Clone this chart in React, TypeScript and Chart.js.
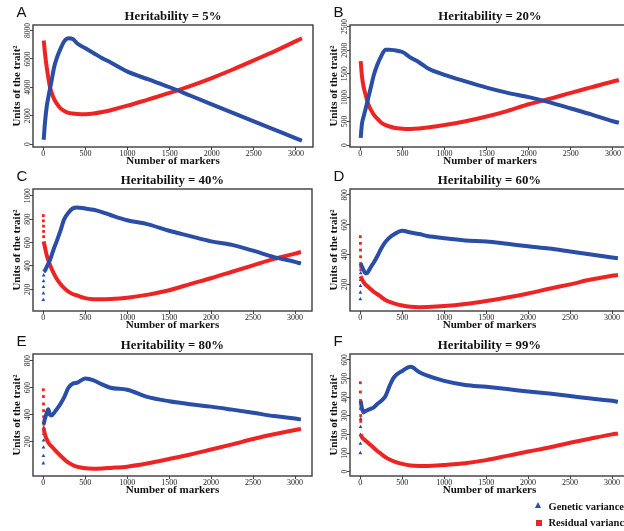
import React, { useEffect, useRef } from "react";
import { Chart, registerables } from "chart.js";

Chart.register(...registerables);

const SERIF = "'Liberation Serif', 'Times New Roman', serif";
const SANS = "'Liberation Sans', Arial, sans-serif";
const BLUE = "#2a4ea6";
const RED = "#ee2424";

// ---------- data ----------
const markerCounts = [5, 20, 40, 60, 80, 100, 130, 160, 200, 250, 300, 350, 400, 500, 600, 700, 800, 1000, 1250, 1500, 1750, 2000, 2250, 2500, 2750, 3000, 3070];
const earlyMarkers = [1, 2, 3, 4, 5, 6];
const xTicks = [0, 500, 1000, 1500, 2000, 2500, 3000];

const heritability = ["5%", "20%", "40%", "60%", "80%", "99%"];
const panelLetters = ["A", "B", "C", "D", "E", "F"];

const genA = [300, 1500, 2600, 3300, 3900, 4500, 5450, 6050, 6650, 7250, 7450, 7400, 7100, 6750, 6400, 6050, 5750, 5100, 4550, 4000, 3400, 2800, 2200, 1600, 1000, 400, 230];
const resA = [7300, 6400, 5450, 4650, 4000, 3600, 3150, 2850, 2550, 2330, 2200, 2150, 2120, 2100, 2150, 2250, 2380, 2700, 3150, 3600, 4100, 4650, 5250, 5900, 6550, 7250, 7450];

const genB = [150, 450, 600, 740, 880, 1030, 1250, 1470, 1680, 1880, 2010, 2010, 2000, 1960, 1840, 1740, 1620, 1480, 1340, 1210, 1100, 1010, 900, 770, 640, 500, 470];
const resB = [1770, 1450, 1220, 1080, 950, 840, 730, 640, 560, 470, 420, 390, 365, 345, 340, 350, 370, 420, 500, 600, 720, 860, 975, 1100, 1220, 1340, 1370];

const genC = [350, 360, 390, 420, 450, 490, 555, 610, 690, 800, 855, 890, 900, 890, 880, 860, 835, 790, 755, 700, 655, 610, 580, 530, 475, 435, 420];
const resC = [610, 560, 495, 450, 410, 375, 330, 290, 250, 210, 180, 160, 148, 125, 116, 115, 117, 128, 155, 192, 245, 295, 350, 405, 460, 505, 520];
const genEarlyC = [110, 165, 220, 270, 320];
const resEarlyC = [830, 785, 740, 695, 650];

const genD = [340, 320, 295, 275, 275, 290, 320, 345, 385, 440, 485, 515, 535, 560, 548, 538, 525, 510, 495, 488, 472, 455, 440, 420, 400, 380, 375];
const resD = [255, 235, 215, 200, 190, 180, 165, 150, 135, 115, 95, 82, 72, 58, 50, 47, 48, 54, 68, 88, 112, 139, 170, 200, 232, 258, 263];
const genEarlyD = [100, 145, 190, 230, 275, 320];
const resEarlyD = [520, 475, 430, 385, 340, 297];

const genE = [330, 370, 410, 440, 400, 395, 415, 440, 475, 530, 600, 630, 637, 668, 655, 625, 600, 585, 530, 500, 478, 460, 438, 415, 390, 372, 365];
const resE = [300, 255, 220, 195, 178, 165, 145, 125, 100, 70, 45, 28, 15, 3, 0, 2, 6, 15, 40, 72, 105, 142, 180, 220, 255, 287, 295];
const genEarlyE = [40, 95, 158, 210, 260, 305];
const resEarlyE = [585, 535, 480, 430, 385, 330];

const genF = [380, 340, 318, 325, 328, 333, 338, 345, 362, 380, 405, 460, 505, 540, 562, 535, 515, 487, 465, 455, 443, 430, 419, 406, 392, 380, 375];
const resF = [200, 185, 175, 168, 160, 152, 140, 128, 112, 95, 78, 65, 55, 42, 33, 31, 31, 36, 45, 62, 85, 108, 130, 155, 178, 200, 205];
const genEarlyF = [100, 150, 198, 240, 283];
const resEarlyF = [477, 427, 382, 337, 301, 270];

const yTicksA = [0, 2000, 4000, 6000, 8000];
const yTicksB = [0, 500, 1000, 1500, 2000, 2500];
const yTicksC = [200, 400, 600, 800, 1000];
const yTicksD = [200, 400, 600, 800];
const yTicksE = [200, 400, 600, 800];
const yTicksF = [0, 100, 200, 300, 400, 500, 600];

// ---------- layout ----------
const BOX_W = 280;
const BOX_H = 122;
const Y_AXIS_W = 33;
const TITLE_H = 25;
const X_AXIS_H = 30;
const RIGHT_PAD = 3;
const colLeft = [33, 350];
const rowTop = [25, 189, 354];

type PanelCfg = {
  idx: number;
  gen: number[];
  res: number[];
  genEarly: number[];
  resEarly: number[];
  yTicks: number[];
  yMin: number;
  yMax: number;
};

const panels: PanelCfg[] = [
  { idx: 0, gen: genA, res: resA, genEarly: [], resEarly: [], yTicks: yTicksA, yMin: -211, yMax: 8388 },
  { idx: 1, gen: genB, res: resB, genEarly: [], resEarly: [], yTicks: yTicksB, yMin: -42, yMax: 2530 },
  { idx: 2, gen: genC, res: resC, genEarly: genEarlyC, resEarly: resEarlyC, yTicks: yTicksC, yMin: 15, yMax: 1057 },
  { idx: 3, gen: genD, res: resD, genEarly: genEarlyD, resEarly: resEarlyD, yTicks: yTicksD, yMin: 21, yMax: 840 },
  { idx: 4, gen: genE, res: resE, genEarly: genEarlyE, resEarly: resEarlyE, yTicks: yTicksE, yMin: -54, yMax: 850 },
  { idx: 5, gen: genF, res: resF, genEarly: genEarlyF, resEarly: resEarlyF, yTicks: yTicksF, yMin: -23, yMax: 631 },
];

const boxPlugin = {
  id: "plotBox",
  afterDraw(chart: any) {
    const { ctx, chartArea: a } = chart;
    ctx.save();
    ctx.strokeStyle = "#3c3c3c";
    ctx.lineWidth = 1.4;
    ctx.strokeRect(a.left, a.top, a.right - a.left, a.bottom - a.top);
    ctx.restore();
  },
};

const Y_TICK_SIZE = 7.5;
const TITLE_SIZE = 12.8;

function Panel({ cfg }: { cfg: PanelCfg }) {
  const ref = useRef<HTMLCanvasElement | null>(null);
  const col = cfg.idx % 2;
  const row = Math.floor(cfg.idx / 2);
  const left = colLeft[col] - Y_AXIS_W;
  const top = rowTop[row] - TITLE_H;
  const width = BOX_W + Y_AXIS_W + RIGHT_PAD;
  const height = BOX_H + TITLE_H + X_AXIS_H;

  useEffect(() => {
    if (!ref.current) return;
    const maxDigits = Math.max(...cfg.yTicks.map((v) => String(v).length));
    const widest = maxDigits * 0.5 * Y_TICK_SIZE;
    const chart = new Chart(ref.current, {
      type: "scatter",
      data: {
        datasets: [
          {
            label: "Genetic variance",
            data: markerCounts.map((x, i) => ({ x, y: cfg.gen[i] })),
            showLine: true,
            borderColor: BLUE,
            backgroundColor: BLUE,
            borderWidth: 4,
            pointRadius: 0,
            cubicInterpolationMode: "monotone",
          },
          {
            label: "Residual variance",
            data: markerCounts.map((x, i) => ({ x, y: cfg.res[i] })),
            showLine: true,
            borderColor: RED,
            backgroundColor: RED,
            borderWidth: 4,
            pointRadius: 0,
            cubicInterpolationMode: "monotone",
          },
          {
            label: "Genetic variance (early)",
            data: cfg.genEarly.map((y, i) => ({ x: earlyMarkers[i], y })),
            pointStyle: "triangle",
            pointRadius: 2.2,
            borderWidth: 0,
            backgroundColor: BLUE,
          },
          {
            label: "Residual variance (early)",
            data: cfg.resEarly.map((y, i) => ({ x: earlyMarkers[i], y })),
            pointStyle: "rect",
            pointRadius: 2,
            borderWidth: 0,
            backgroundColor: RED,
          },
        ],
      },
      options: {
        responsive: false,
        animation: false,
        events: [],
        layout: { padding: { left: 0, right: RIGHT_PAD, top: 0, bottom: 0 } },
        plugins: {
          legend: { display: false },
          tooltip: { enabled: false },
          title: {
            display: true,
            fullSize: false,
            text: `Heritability = ${heritability[cfg.idx]}`,
            color: "#111",
            font: { family: SERIF, size: TITLE_SIZE, weight: "bold", lineHeight: 1.2 },
            padding: { top: 8.8, bottom: TITLE_H - 8.8 - TITLE_SIZE * 1.2 },
          },
        },
        scales: {
          x: {
            type: "linear",
            min: -122,
            max: 3202,
            afterBuildTicks: (s: any) => {
              s.ticks = xTicks.map((v) => ({ value: v }));
            },
            afterFit: (s: any) => {
              s.height = X_AXIS_H;
            },
            border: { display: false },
            grid: { drawOnChartArea: false, drawTicks: true, tickLength: 3, color: "#444", lineWidth: 1 },
            ticks: {
              font: { family: SERIF, size: 8 },
              color: "#222",
              padding: -1,
              maxRotation: 0,
              autoSkip: false,
              callback: (v: any) => String(v),
            },
            title: {
              display: true,
              text: "Number of markers",
              color: "#111",
              font: { family: SERIF, size: 11, weight: "bold", lineHeight: 1.2 },
              padding: { top: 0, bottom: 9.4 },
            },
          },
          y: {
            type: "linear",
            min: cfg.yMin,
            max: cfg.yMax,
            afterBuildTicks: (s: any) => {
              s.ticks = cfg.yTicks.map((v) => ({ value: v }));
            },
            afterFit: (s: any) => {
              s.width = Y_AXIS_W;
            },
            border: { display: false },
            grid: { drawOnChartArea: false, drawTicks: true, tickLength: 3, color: "#444", lineWidth: 1 },
            ticks: {
              font: { family: SERIF, size: Y_TICK_SIZE },
              color: "#222",
              minRotation: 90,
              maxRotation: 90,
              crossAlign: "center",
              padding: 2 - widest / 2,
              autoSkip: false,
              callback: (v: any) => String(v),
            },
            title: {
              display: true,
              text: "Units of the trait²",
              color: "#111",
              font: { family: SERIF, size: 11, weight: "bold", lineHeight: 1.2 },
              padding: { top: 11, bottom: 0 },
            },
          },
        },
      } as any,
      plugins: [boxPlugin],
    });
    return () => chart.destroy();
  }, [cfg]);

  return (
    <canvas
      ref={ref}
      width={width}
      height={height}
      style={{ position: "absolute", left, top, width, height }}
    />
  );
}

const letterTops = [4, 168, 333];
const letterLefts = [16.5, 333.5];

export default function App() {
  return (
    <div
      style={{
        position: "absolute",
        left: 0,
        top: 0,
        width: 624,
        height: 531,
        overflow: "hidden",
        background: "#fff",
      }}
    >
      {panels.map((p) => (
        <Panel key={p.idx} cfg={p} />
      ))}
      {panelLetters.map((l, i) => (
        <div
          key={l}
          style={{
            position: "absolute",
            left: letterLefts[i % 2],
            top: letterTops[Math.floor(i / 2)],
            fontFamily: SANS,
            fontSize: 15,
            lineHeight: "15px",
            color: "#111",
          }}
        >
          {l}
        </div>
      ))}
      <div
        style={{
          position: "absolute",
          left: 535.2,
          top: 502.4,
          width: 0,
          height: 0,
          borderLeft: "3.6px solid transparent",
          borderRight: "3.6px solid transparent",
          borderBottom: `6.6px solid ${BLUE}`,
        }}
      />
      <div
        style={{
          position: "absolute",
          left: 535.7,
          top: 519.7,
          width: 6,
          height: 6,
          background: RED,
        }}
      />
      <div
        style={{
          position: "absolute",
          left: 548.5,
          top: 500.5,
          fontFamily: SERIF,
          fontWeight: "bold",
          fontSize: 10.5,
          lineHeight: "12px",
          whiteSpace: "nowrap",
          color: "#111",
        }}
      >
        Genetic variance
      </div>
      <div
        style={{
          position: "absolute",
          left: 548.5,
          top: 516.5,
          fontFamily: SERIF,
          fontWeight: "bold",
          fontSize: 10.5,
          lineHeight: "12px",
          whiteSpace: "nowrap",
          color: "#111",
        }}
      >
        Residual variance
      </div>
    </div>
  );
}
